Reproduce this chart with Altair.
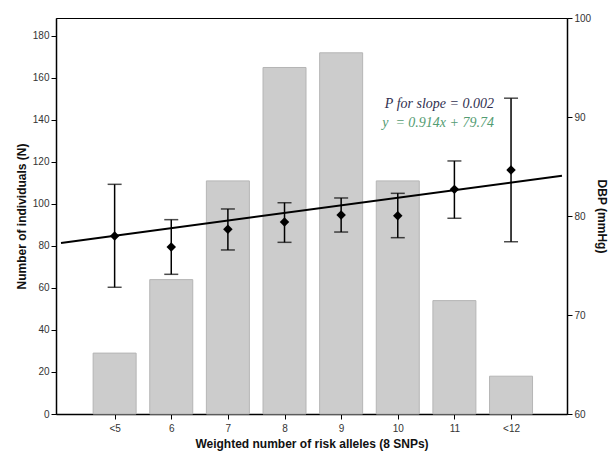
import json
import altair as alt
import pandas as pd

categories = [5, 6, 7, 8, 9, 10, 11, 12]
cat_labels = ["<5", "6", "7", "8", "9", "10", "11", "<12"]
counts = [29, 64, 111, 165, 172, 111, 54, 18]
dbp_mean = [77.98, 76.87, 78.65, 79.39, 80.10, 80.03, 82.69, 84.65]
dbp_lo = [72.8, 74.11, 76.57, 77.34, 78.38, 77.81, 79.77, 77.4]
dbp_hi = [83.2, 79.63, 80.71, 81.34, 81.82, 82.29, 85.56, 91.9]
fit_x = [4.053, 12.9]
fit_y = [77.27, 84.07]
annotations = ["P for slope = 0.002", "y \u00a0= 0.914x + 79.74"]
annotation_colors = ["#30304f", "#539c72"]

df = pd.DataFrame({"cat": categories, "n": counts, "m": dbp_mean, "lo": dbp_lo, "hi": dbp_hi})
fit = pd.DataFrame({"x": fit_x, "y": fit_y})
ann = pd.DataFrame({"t": annotations, "c": annotation_colors, "i": [0, 1]})

xdom = [4.053, 12.9]
label_expr = json.dumps(cat_labels) + "[datum.value - 5]"
xscale = alt.Scale(domain=xdom, nice=False, zero=False)
xaxis = alt.Axis(values=categories, labelExpr=label_expr, title="Weighted number of risk alleles (8 SNPs)",
                 tickSize=5, labelPadding=4, titlePadding=5)

bars = alt.Chart(df).mark_bar(size=43, color="#cccccc", stroke="#b5b5b5", strokeWidth=1).encode(
    x=alt.X("cat:Q", scale=xscale, axis=xaxis),
    y=alt.Y("n:Q", scale=alt.Scale(domain=[0, 188.57], nice=False),
            axis=alt.Axis(values=list(range(0, 181, 20)), title="Number of individuals (N)", orient="left",
                          tickSize=5, labelPadding=2)),
)

ry = alt.Scale(domain=[60, 100], nice=False, zero=False)
raxis = alt.Axis(values=[60, 70, 80, 90, 100], title="DBP (mmHg)", orient="right", tickSize=5, labelPadding=2,
                 titlePadding=4)

base = alt.Chart(df)
rules = base.mark_rule(color="black", strokeWidth=1.5).encode(
    x=alt.X("cat:Q", scale=xscale, axis=xaxis),
    y=alt.Y("lo:Q", scale=ry, axis=raxis),
    y2="hi:Q",
)
cap_lo = base.mark_tick(orient="horizontal", size=14, thickness=1.5, color="black").encode(
    x=alt.X("cat:Q", scale=xscale), y=alt.Y("lo:Q", scale=ry))
cap_hi = base.mark_tick(orient="horizontal", size=14, thickness=1.5, color="black").encode(
    x=alt.X("cat:Q", scale=xscale), y=alt.Y("hi:Q", scale=ry))
line = alt.Chart(fit).mark_line(color="black", strokeWidth=2, clip=True).encode(
    x=alt.X("x:Q", scale=xscale), y=alt.Y("y:Q", scale=ry))
pts = base.mark_point(shape="diamond", filled=True, size=90, color="black", opacity=1).encode(
    x=alt.X("cat:Q", scale=xscale), y=alt.Y("m:Q", scale=ry))
texts = alt.Chart(ann).mark_text(font="Liberation Serif", fontStyle="italic", fontSize=14, align="right",
                                 baseline="middle").encode(
    x=alt.value(438),
    y=alt.Y("i:Q", scale=alt.Scale(domain=[0, 1], range=[86, 105]), axis=None),
    text="t:N",
    color=alt.Color("c:N", scale=None),
)

right = alt.layer(rules, cap_lo, cap_hi, line, pts)
chart = alt.layer(bars, right, texts).resolve_scale(y="independent").properties(
    width=511, height=396,
    autosize=alt.AutoSizeParams(type="none"),
    padding={"left": 56, "top": 18, "right": 42, "bottom": 49},
).configure_view(stroke="black", strokeWidth=1).configure_axis(
    grid=False, domainColor="black", domainWidth=1.5, tickColor="black",
    labelFont="Liberation Sans", labelFontSize=10, labelColor="#333333",
    titleFont="Liberation Sans", titleFontWeight="bold", titleFontSize=12, titleColor="#111111",
)

chart.save("out.html", embed_options={"renderer": "svg", "actions": False})
